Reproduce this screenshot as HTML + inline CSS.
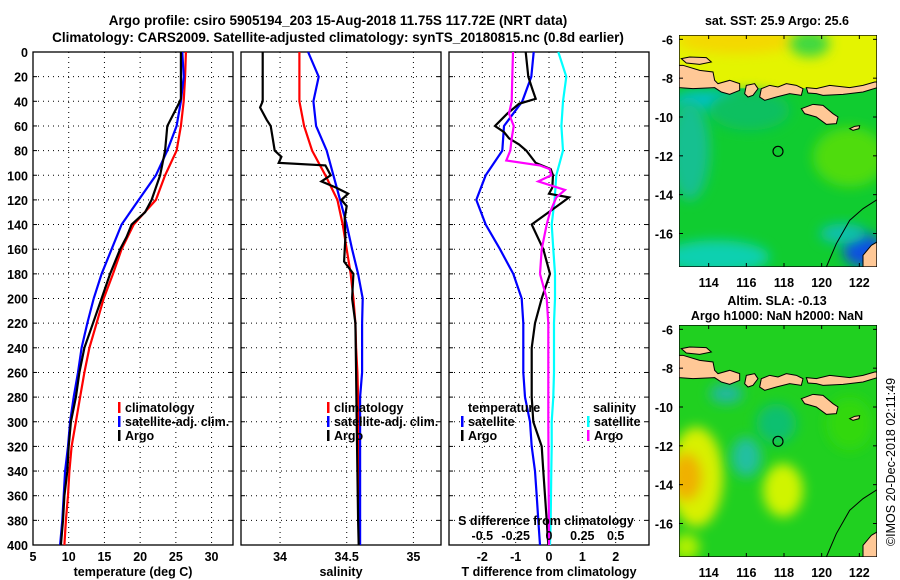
<!DOCTYPE html>
<html><head><meta charset="utf-8"><style>
html,body{margin:0;padding:0;background:#fff;}
svg{display:block;font-family:"Liberation Sans",Arial,sans-serif;font-weight:bold;}
</style></head><body>
<svg id="chart" width="900" height="580" viewBox="0 0 900 580" xmlns="http://www.w3.org/2000/svg">
<defs>
<filter id="blur1" x="-50%" y="-50%" width="200%" height="200%"><feGaussianBlur stdDeviation="18"/></filter>
<filter id="blur2" x="-50%" y="-50%" width="200%" height="200%"><feGaussianBlur stdDeviation="30"/></filter>
<clipPath id="mapclip"><rect x="88" y="104" width="594" height="696"/></clipPath>
</defs>
<text x="338" y="25" font-size="13.5" text-anchor="middle">Argo profile: csiro 5905194_203 15-Aug-2018 11.75S 117.72E (NRT data)</text>
<text x="338" y="42" font-size="13.5" text-anchor="middle">Climatology: CARS2009. Satellite-adjusted climatology: synTS_20180815.nc (0.8d earlier)</text>
<g id="panels"></g>
<g id="maps"></g>
<text transform="translate(895,462) rotate(-90)" font-size="12.5" font-weight="normal" text-anchor="middle">©IMOS 20-Dec-2018 02:11:49</text>
</svg>
<script>
// ---- data (depth in dbar) ----
const depths = [0,20,40,60,80,100,120,140,160,180,200,220,240,260,280,300,320,340,360,380,400];
const tempClim = [26.4,26.3,26.1,25.7,25.1,23.5,22.2,19.1,17.4,16.2,14.9,13.9,12.9,12.2,11.6,11.0,10.4,10.1,9.9,9.6,9.4];
const tempSat  = [25.9,26.1,25.7,25.1,23.8,22.2,19.8,17.4,16.0,14.6,13.5,12.6,11.8,11.3,10.7,10.2,9.9,9.5,9.3,9.1,8.8];
const argoDepths = [0,20,38,42,60,80,100,120,130,140,150,160,180,200,220,240,260,280,300,320,340,360,380,400];
const tempArgo = [25.7,25.7,25.7,25.4,23.8,23.5,22.8,21.6,20.7,18.8,18.1,17.2,15.8,14.6,13.4,12.2,11.5,11.0,10.3,10.0,9.8,9.4,9.2,8.9];
const salClim = [34.145,34.145,34.145,34.18,34.24,34.34,34.43,34.47,34.5,34.53,34.55,34.565,34.57,34.58,34.585,34.585,34.59,34.59,34.595,34.595,34.595];
const salSat  = [34.21,34.29,34.25,34.27,34.35,34.40,34.45,34.50,34.54,34.585,34.62,34.615,34.615,34.615,34.60,34.60,34.60,34.60,34.60,34.60,34.60];
const salArgoDepths = [0,20,40,45,55,60,80,85,90,92,100,105,110,115,120,125,135,150,170,180,200,220,260,300,340,380,400];
const salArgo = [33.87,33.87,33.87,33.85,33.9,33.93,33.96,34.01,33.99,34.34,34.38,34.31,34.42,34.51,34.46,34.50,34.485,34.49,34.48,34.55,34.54,34.565,34.57,34.575,34.58,34.585,34.59];
const tDiffSat = [-0.46,-0.53,-0.8,-1.35,-1.4,-1.9,-2.18,-1.9,-1.47,-1.07,-0.82,-0.77,-0.77,-0.77,-0.72,-0.57,-0.52,-0.42,-0.37,-0.32,-0.27];
const diffArgoDepths = [0,20,30,38,42,50,60,65,70,75,80,90,95,100,110,115,118,122,140,160,180,200,220,240,260,280,300,320,340,360,380,400];
const tDiffArgo = [-0.7,-0.62,-0.5,-0.4,-0.9,-1.25,-1.62,-1.35,-1.2,-0.9,-0.68,-0.4,0.05,0.12,0.1,0.0,0.6,0.4,-0.52,-0.17,0.03,-0.22,-0.42,-0.52,-0.52,-0.52,-0.47,-0.22,-0.17,-0.12,-0.07,-0.02];
const sDiffArgoDepths = [0,20,40,50,60,70,80,88,92,95,100,105,112,118,130,140,160,180,200,220,240,300,400];
const sDiffArgo = [-0.27,-0.275,-0.28,-0.3,-0.265,-0.28,-0.29,-0.32,-0.07,0.005,0.0175,-0.08,0.12,0.055,0.0075,-0.0175,-0.055,-0.0675,-0.0175,-0.005,-0.005,-0.005,0.0];
const sDiffSat = [0.07,0.13,0.105,0.093,0.105,0.055,0.042,0.02,0.0325,0.045,0.045,0.0375,0.0375,0.0375,0.0325,0.02,0.02,0.0175,0.015,0.0125,0.0075];
const tTicks = [5,10,15,20,25,30];
const sTicks = [34,34.5,35];
const dTicks = [-2,-1,0,1,2];
const sdTicks = [-0.5,-0.25,0,0.25,0.5];
const depthTicks = [0,20,40,60,80,100,120,140,160,180,200,220,240,260,280,300,320,340,360,380,400];
const latTicks = [-6,-8,-10,-12,-14,-16];
const lonTicks = [114,116,118,120,122];

const NS='http://www.w3.org/2000/svg';
function mk(tag, attrs, parent){const e=document.createElementNS(NS,tag);for(const k in attrs)e.setAttribute(k,attrs[k]);if(parent)parent.appendChild(e);return e;}
const Y0=52, Y1=545;
const yScale = d => Y0 + d/400*(Y1-Y0);

function panel(name, x0, x1, vmin, vmax, ticks, tickFmt, xTitle, showY){
  const g = mk('g',{},document.getElementById('panels'));
  
  
  const xs = v => x0 + (v-vmin)/(vmax-vmin)*(x1-x0);
  depthTicks.forEach(d=>{ if(d>0&&d<400){
    const l=mk('line',{x1:x0,x2:x1,y1:yScale(d),y2:yScale(d),stroke:'#000','stroke-width':1,'stroke-dasharray':'1,4'},g);
     
    mk('line',{x1:x0,x2:x0+4,y1:yScale(d),y2:yScale(d),stroke:'#000'},g);
    mk('line',{x1:x1-4,x2:x1,y1:yScale(d),y2:yScale(d),stroke:'#000'},g);
  }});
  ticks.forEach(t=>{ const x=xs(t); if(x>x0+1&&x<x1-1){
    const l=mk('line',{x1:x,x2:x,y1:Y0,y2:Y1,stroke:'#000','stroke-width':1,'stroke-dasharray':'1,4'},g);
     
  }
    const tx=mk('text',{x:x,y:561,'font-size':12.5,'text-anchor':'middle'},g); tx.textContent=tickFmt(t);
     
  });
  const xt=mk('text',{x:(x0+x1)/2,y:576,'font-size':12.5,'text-anchor':'middle'},g); xt.textContent=xTitle;
   
  if(showY){ depthTicks.forEach(d=>{
    const t=mk('text',{x:x0-5,y:yScale(d)+5,'font-size':12.5,'text-anchor':'end'},g); t.textContent=d;
     
  });}
  const fr=mk('rect',{x:x0,y:Y0,width:x1-x0,height:Y1-Y0,fill:'none',stroke:'#000','stroke-width':1.3},g);
   
  return {g, xs};
}
function series(p, name, dArr, vArr, color, scale){
  const pts = vArr.map((v,i)=>p.xs(v*(scale||1)).toFixed(1)+','+yScale(dArr[i]).toFixed(1)).join(' ');
  const pl = mk('polyline',{points:pts,fill:'none',stroke:color,'stroke-width':2.2,'stroke-linejoin':'miter'},p.g);
  
  
}
function legend(p, x, y, items){
  items.forEach((it,i)=>{
    mk('rect',{x:x,y:y+i*14-10,width:2.5,height:11,fill:it[1]},p.g);
    const t=mk('text',{x:x+7,y:y+i*14,'font-size':12.5},p.g); t.textContent=it[0];
     
  });
}
const fmt = v=>String(v);
const p1 = panel('temperature-panel',33,233,5,33,tTicks,fmt,'temperature (deg C)',true);
series(p1,'temp-climatology-line',depths,tempClim,'#ff0000');
series(p1,'temp-satellite-line',depths,tempSat,'#0000ff');
series(p1,'temp-argo-line',argoDepths,tempArgo,'#000000');
legend(p1,118,412,[['climatology','#ff0000'],['satellite-adj. clim.','#0000ff'],['Argo','#000']]);

const p2 = panel('salinity-panel',241,441,33.707,35.207,sTicks,fmt,'salinity',false);
series(p2,'sal-climatology-line',depths,salClim,'#ff0000');
series(p2,'sal-satellite-line',depths,salSat,'#0000ff');
series(p2,'sal-argo-line',salArgoDepths,salArgo,'#000000');
legend(p2,327,412,[['climatology','#ff0000'],['satellite-adj. clim.','#0000ff'],['Argo','#000']]);

const p3 = panel('difference-panel',449,649,-3,3,dTicks,fmt,'T difference from climatology',false);
series(p3,'tdiff-satellite-line',depths,tDiffSat,'#0000ff');
series(p3,'sdiff-satellite-line',depths,sDiffSat,'#00ffff',4);
series(p3,'tdiff-argo-line',diffArgoDepths,tDiffArgo,'#000000');
series(p3,'sdiff-argo-line',sDiffArgoDepths,sDiffArgo,'#ff00ff',4);
(function(){
  const t=mk('text',{x:468,y:412,'font-size':12.5},p3.g); t.textContent='temperature';
   
  const s=mk('text',{x:593,y:412,'font-size':12.5},p3.g); s.textContent='salinity';
   
  legend(p3,461,426,[['satellite','#0000ff'],['Argo','#000']]);
  legend(p3,587,426,[['satellite','#00ffff'],['Argo','#ff00ff']]);
  const st=mk('text',{x:546,y:525,'font-size':12.5,'text-anchor':'middle'},p3.g); st.textContent='S difference from climatology';
   
  sdTicks.forEach(v=>{const l=mk('text',{x:p3.xs(v*4),y:540,'font-size':12.5,'text-anchor':'middle'},p3.g); l.textContent=String(v);
     });
})();

// ---- maps ----
const land = [
 '95,175 120,170 170,172 185,185 150,192 110,188',
 '88,195 100,195 150,210 190,215 195,240 205,250 240,240 270,250 270,270 240,282 215,275 195,262 130,265 88,262',
 '290,255 315,250 325,265 310,285 295,290 285,280',
 '335,265 360,255 385,260 410,250 440,255 460,265 455,285 420,280 380,290 345,300 330,290',
 '470,262 500,265 540,255 600,262 640,255 675,245 682,245 682,262 640,275 580,282 520,285 500,280 475,278',
 '455,325 490,312 520,315 550,340 565,350 560,370 530,372 500,350 465,340',
 '600,385 615,378 630,376 628,385 610,390',
 '640,800 640,765 665,735 682,725 682,800'
];
function map(name, top, title1, title2, blobs, base){
  const g=mk('g',{},document.getElementById('maps'));
   
  const t=mk('text',{x:777,y:title2?top-20:top-10,'font-size':12.5,'text-anchor':'middle'},g); t.textContent=title1;
   
  if(title2){const t2=mk('text',{x:777,y:top-5,'font-size':12.5,'text-anchor':'middle'},g); t2.textContent=title2;
     }
  const svg=mk('svg',{x:679,y:top,width:198,height:232,viewBox:'88 104 594 696',preserveAspectRatio:'none'},g);
  const inner=mk('g',{'clip-path':'url(#mapclip)'},svg);
  mk('rect',{x:88,y:104,width:594,height:696,fill:base},inner);
  blobs.forEach(b=>{
    if(b[0]==='rect') mk('rect',{x:b[1],y:b[2],width:b[3],height:b[4],fill:b[5]},inner);
    else mk('ellipse',{cx:b[1],cy:b[2],rx:b[3],ry:b[4],fill:b[5],filter:'url(#'+(b[6]||'blur1')+')'},inner);
  });
  land.forEach(p=>{const pg=mk('polygon',{points:p,fill:'#ffc896',stroke:'#000','stroke-width':3},inner);
     });
  mk('polyline',{points:'530,800 560,730 600,660 640,625 682,598',fill:'none',stroke:'#000','stroke-width':3},inner);
  const c=mk('circle',{cx:385,cy:453,r:15,fill:'none',stroke:'#000','stroke-width':3.5},inner);
   
  mk('rect',{x:88,y:104,width:594,height:696,fill:'none',stroke:'#000','stroke-width':4},svg);
  latTicks.forEach(v=>{const y=top+(117+(-6-v)/2*116.5-104)/3;
    mk('line',{x1:679,x2:683,y1:y,y2:y,stroke:'#000'},g); mk('line',{x1:873,x2:877,y1:y,y2:y,stroke:'#000'},g);
    const l=mk('text',{x:673,y:y+5,'font-size':12.5,'text-anchor':'end'},g); l.textContent=v;
     });
  lonTicks.forEach(v=>{const x=650+(176+(v-114)/2*113)/3;
    mk('line',{x1:x,x2:x,y1:top,y2:top+4,stroke:'#000'},g); mk('line',{x1:x,x2:x,y1:top+228,y2:top+232,stroke:'#000'},g);
    const l=mk('text',{x:x,y:top+252,'font-size':12.5,'text-anchor':'middle'},g); l.textContent=v;
     });
}
map('sst-map',35,'sat. SST: 25.9 Argo: 25.6',null,[
  ['rect',88,104,594,160,'#e4f400'],
  ['ellipse',260,120,180,40,'#f4d800'],
  ['ellipse',480,130,60,40,'#40d840'],
  ['ellipse',170,300,100,30,'#00c0c8'],
  ['ellipse',300,330,120,60,'#10c060'],
  ['ellipse',120,450,60,150,'#18c090'],
  ['ellipse',600,470,110,90,'#50dc10'],
  ['ellipse',200,770,160,50,'#10d0b0'],
  ['ellipse',640,750,60,50,'#1050e0'],
  ['ellipse',580,700,70,30,'#10c0b0']
],'#10cc30');
map('sla-map',325,'Altim. SLA: -0.13','Argo h1000: NaN h2000: NaN',[
  ['ellipse',140,560,80,150,'#d8f000'],
  ['ellipse',110,560,45,70,'#f0b000'],
  ['ellipse',400,600,60,80,'#d0f400'],
  ['ellipse',290,500,45,60,'#20c0a0'],
  ['ellipse',230,310,50,30,'#20b8a0'],
  ['ellipse',380,400,60,60,'#10c070'],
  ['ellipse',110,770,40,40,'#b0f000'],
  ['ellipse',600,400,70,80,'#30d810']
],'#20d020');
</script>
</body></html>
